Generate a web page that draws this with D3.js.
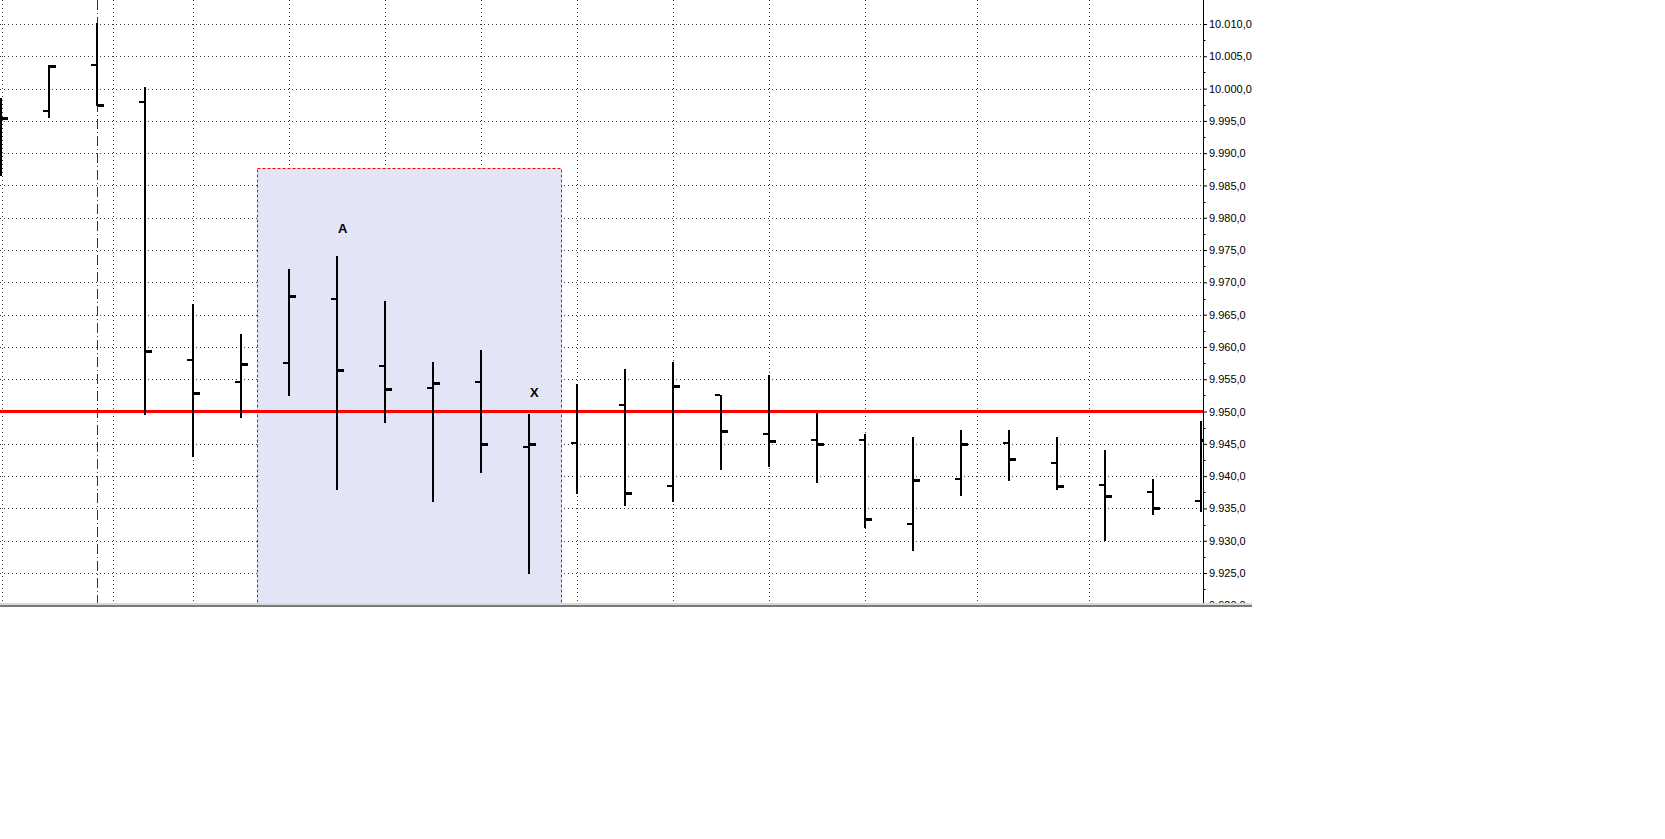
<!DOCTYPE html>
<html><head><meta charset="utf-8">
<script src="https://cdn.jsdelivr.net/npm/d3@7"></script>
<style>html,body{margin:0;padding:0;background:#fff;overflow:hidden}</style>
</head><body>
<svg id="chart" width="1665" height="839"></svg>
<script>
// ---- data ----
const categories = ["Bar 1","Bar 2","Bar 3","Bar 4","Bar 5","Bar 6","Bar 7","Bar 8","Bar 9","Bar 10","Bar 11","Bar 12","Bar 13",
  "Bar 14","Bar 15","Bar 16","Bar 17","Bar 18","Bar 19","Bar 20","Bar 21","Bar 22","Bar 23","Bar 24","Bar 25","Bar 26"];
const openValues  = [9990.0, 9996.5, 10003.6, 9998.0, 9958.0, 9954.5, 9957.5, 9967.5, 9957.0, 9953.6, 9954.5, 9944.5, 9945.1,
  9951.0, 9938.5, 9952.6, 9946.5, 9945.6, 9945.6, 9932.6, 9939.5, 9945.1, 9942.0, 9938.6, 9937.5, 9936.1];
const highValues  = [9998.6, 10003.6, 10010.1, 10000.2, 9966.7, 9962.0, 9972.1, 9974.1, 9967.1, 9957.6, 9959.6, 9949.6, 9954.2,
  9956.6, 9957.6, 9952.6, 9955.6, 9949.7, 9946.5, 9946.1, 9947.2, 9947.2, 9946.1, 9944.1, 9939.6, 9948.6];
const lowValues   = [9986.4, 9995.5, 9997.3, 9949.5, 9942.9, 9949.0, 9952.4, 9937.9, 9948.3, 9936.0, 9940.5, 9924.9, 9937.3,
  9935.3, 9936.0, 9940.9, 9941.4, 9938.9, 9931.9, 9928.4, 9936.9, 9939.3, 9937.9, 9929.9, 9934.0, 9934.4];
const closeValues = [9995.5, 10003.5, 9997.5, 9959.4, 9952.9, 9957.4, 9967.9, 9956.5, 9953.5, 9954.4, 9945.0, 9945.0, null,
  9937.4, 9954.0, 9947.0, 9945.5, 9945.0, 9933.4, 9939.4, 9945.0, 9942.6, 9938.5, 9936.9, 9935.0, 9945.6];
const yTickValues = [9920,9925,9930,9935,9940,9945,9950,9955,9960,9965,9970,9975,9980,9985,9990,9995,10000,10005,10010];
const yMinorTickValues = [9922.5,9927.5,9932.5,9937.5,9942.5,9947.5,9952.5,9957.5,9962.5,9967.5,9972.5,9977.5,9982.5,9987.5,9992.5,9997.5,10002.5,10007.5];
const referenceLevel = 9950;
const timeGridPositions = [0.02, 2.333, 4, 6, 8, 10, 12, 14, 16, 18, 20.333, 22.667];
const sessionBreakPosition = 2;
const zoneRange = [5.333, 11.667];
const zoneValues = [9987.7, 9900];
const annotationLabels = ["A", "X"];
const annotationBars = [7, 11];
const annotationValues = [9977.6, 9952.2];

// ---- layout ----
const plotW = 1203, plotH = 603;
const svg = d3.select("#chart");
const x = d3.scaleLinear().domain([0, categories.length - 1]).range([1, 1201]);
const y = d3.scaleLinear().domain([9925, 10010]).range([573, 24]);
const fmt = d3.formatLocale({decimal: ",", thousands: ".", grouping: [3], currency: ["", ""]}).format(",.1f");

const defs = svg.append("defs");
defs.append("clipPath").attr("id", "plotClip").append("rect").attr("x", 0).attr("y", 0).attr("width", plotW).attr("height", plotH);
defs.append("clipPath").attr("id", "axisClip").append("rect").attr("x", -2).attr("y", 0).attr("width", 120).attr("height", plotH);

const plot = svg.append("g").attr("clip-path", "url(#plotClip)");
const gridColor = "#404040";

// horizontal grid
plot.append("g").selectAll("line").data(yTickValues).join("line")
  .attr("x1", 0).attr("x2", plotW)
  .attr("y1", d => Math.round(y(d)) + 0.5).attr("y2", d => Math.round(y(d)) + 0.5)
  .attr("stroke", gridColor).attr("stroke-width", 1).attr("stroke-dasharray", "1,3");

// vertical grid
plot.append("g").selectAll("line").data(timeGridPositions).join("line")
  .attr("x1", d => Math.round(x(d)) + 0.5).attr("x2", d => Math.round(x(d)) + 0.5)
  .attr("y1", 0).attr("y2", plotH)
  .attr("stroke", gridColor).attr("stroke-width", 1).attr("stroke-dasharray", "1,3");

// session break (dash-dot)
plot.append("line")
  .attr("x1", Math.round(x(sessionBreakPosition)) + 0.5).attr("x2", Math.round(x(sessionBreakPosition)) + 0.5)
  .attr("y1", 0).attr("y2", plotH)
  .attr("stroke", "#333").attr("stroke-width", 1).attr("stroke-dasharray", "10,3,1,3");

// highlighted zone
const zx0 = Math.round(x(zoneRange[0])) + 0.5, zx1 = Math.round(x(zoneRange[1])) + 0.5;
const zy0 = Math.round(y(zoneValues[0])) + 0.5, zy1 = Math.round(y(zoneValues[1]));
plot.append("rect")
  .attr("x", zx0).attr("y", zy0).attr("width", zx1 - zx0).attr("height", zy1 - zy0)
  .attr("fill", "#E4E4F7").attr("stroke", "#FF0000").attr("stroke-width", 1).attr("stroke-dasharray", "3,2");

// reference level
plot.append("line")
  .attr("x1", 0).attr("x2", plotW)
  .attr("y1", y(referenceLevel)).attr("y2", y(referenceLevel))
  .attr("stroke", "#FF0000").attr("stroke-width", 3);

// OHLC bars
const bars = plot.append("g").selectAll("g").data(categories.map((c, i) => i)).join("g");
bars.append("rect")
  .attr("x", i => Math.round(x(i)) - 1).attr("width", 2)
  .attr("y", i => Math.round(y(highValues[i])))
  .attr("height", i => Math.round(y(lowValues[i])) - Math.round(y(highValues[i])))
  .attr("fill", "#000");
bars.append("rect")
  .attr("x", i => Math.round(x(i)) - 6).attr("width", 5)
  .attr("y", i => Math.round(y(openValues[i])) - 1).attr("height", 2)
  .attr("fill", "#000");
bars.filter(i => closeValues[i] !== null).append("rect")
  .attr("x", i => Math.round(x(i)) + 1).attr("width", 6)
  .attr("y", i => Math.round(y(closeValues[i])) - 1).attr("height", 3)
  .attr("fill", "#000");

// annotations
plot.append("g").selectAll("text").data(annotationLabels).join("text")
  .attr("x", (d, k) => x(annotationBars[k]) + 1)
  .attr("y", (d, k) => y(annotationValues[k]))
  .attr("font-family", "'Liberation Sans', Arial, sans-serif")
  .attr("font-size", 13).attr("font-weight", "bold").attr("fill", "#000")
  .text(d => d);

// y axis
const axisG = svg.append("g").attr("transform", `translate(${plotW},0)`);
axisG.append("line").attr("x1", 0.5).attr("x2", 0.5).attr("y1", 0).attr("y2", plotH).attr("stroke", "#000");
const axisInner = axisG.append("g").attr("clip-path", "url(#axisClip)");
axisInner.call(d3.axisRight(y).tickValues(yTickValues).tickSize(4).tickPadding(2).tickFormat(fmt));
axisInner.select(".domain").remove();
axisInner.selectAll(".tick line").attr("stroke", "#000");
axisInner.selectAll(".tick text")
  .attr("font-family", "'Liberation Sans', Arial, sans-serif")
  .attr("font-size", 11).attr("fill", "#000");
axisInner.append("g").selectAll("line").data(yMinorTickValues).join("line")
  .attr("x1", 0.5).attr("x2", 2.5)
  .attr("y1", d => Math.round(y(d)) + 0.5).attr("y2", d => Math.round(y(d)) + 0.5)
  .attr("stroke", "#000");

// bottom separator
svg.append("rect").attr("x", 0).attr("y", 603).attr("width", 1252).attr("height", 2).attr("fill", "#dadada");
svg.append("rect").attr("x", 0).attr("y", 605).attr("width", 1252).attr("height", 2).attr("fill", "#7a7a7a");
</script>
</body></html>
